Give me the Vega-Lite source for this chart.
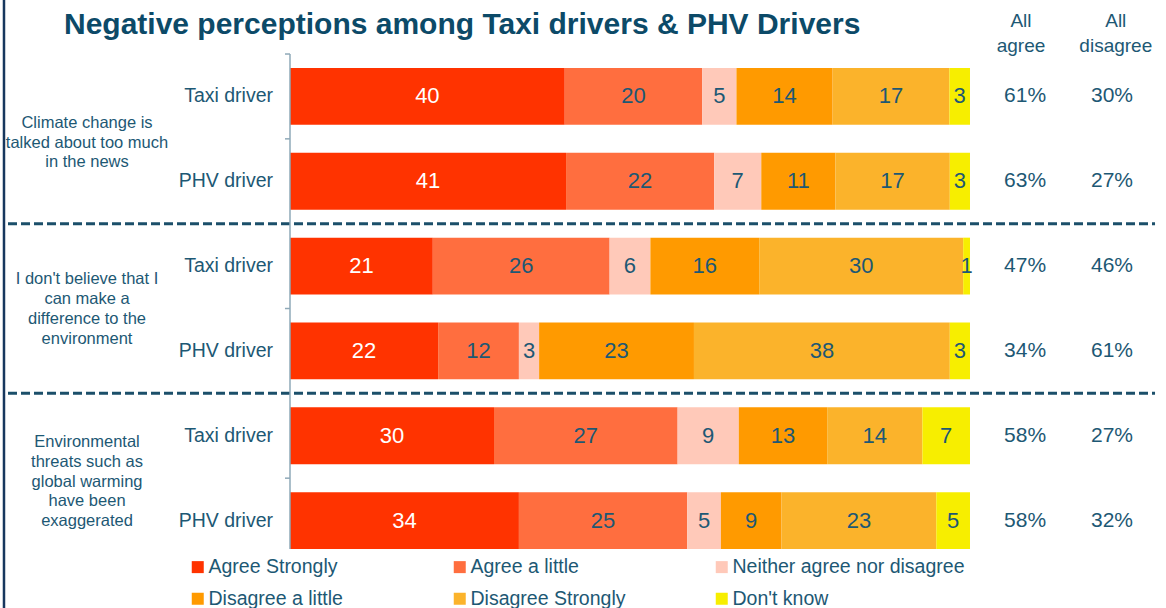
{
  "$schema": "https://vega.github.io/schema/vega-lite/v6.json",
  "width": 1166,
  "height": 608,
  "padding": 0,
  "autosize": "none",
  "config": {"view": {"stroke": null}, "font": "Liberation Sans"},
  "datasets": {
    "bars": [
      {"row": "Q1-Taxi", "cat": "Agree Strongly", "ci": 1, "value": 40},
      {"row": "Q1-Taxi", "cat": "Agree a little", "ci": 2, "value": 20},
      {"row": "Q1-Taxi", "cat": "Neither agree nor disagree", "ci": 3, "value": 5},
      {"row": "Q1-Taxi", "cat": "Disagree a little", "ci": 4, "value": 14},
      {"row": "Q1-Taxi", "cat": "Disagree Strongly", "ci": 5, "value": 17},
      {"row": "Q1-Taxi", "cat": "Don't know", "ci": 6, "value": 3},
      {"row": "Q1-PHV", "cat": "Agree Strongly", "ci": 1, "value": 41},
      {"row": "Q1-PHV", "cat": "Agree a little", "ci": 2, "value": 22},
      {"row": "Q1-PHV", "cat": "Neither agree nor disagree", "ci": 3, "value": 7},
      {"row": "Q1-PHV", "cat": "Disagree a little", "ci": 4, "value": 11},
      {"row": "Q1-PHV", "cat": "Disagree Strongly", "ci": 5, "value": 17},
      {"row": "Q1-PHV", "cat": "Don't know", "ci": 6, "value": 3},
      {"row": "Q2-Taxi", "cat": "Agree Strongly", "ci": 1, "value": 21},
      {"row": "Q2-Taxi", "cat": "Agree a little", "ci": 2, "value": 26},
      {"row": "Q2-Taxi", "cat": "Neither agree nor disagree", "ci": 3, "value": 6},
      {"row": "Q2-Taxi", "cat": "Disagree a little", "ci": 4, "value": 16},
      {"row": "Q2-Taxi", "cat": "Disagree Strongly", "ci": 5, "value": 30},
      {"row": "Q2-Taxi", "cat": "Don't know", "ci": 6, "value": 1},
      {"row": "Q2-PHV", "cat": "Agree Strongly", "ci": 1, "value": 22},
      {"row": "Q2-PHV", "cat": "Agree a little", "ci": 2, "value": 12},
      {"row": "Q2-PHV", "cat": "Neither agree nor disagree", "ci": 3, "value": 3},
      {"row": "Q2-PHV", "cat": "Disagree a little", "ci": 4, "value": 23},
      {"row": "Q2-PHV", "cat": "Disagree Strongly", "ci": 5, "value": 38},
      {"row": "Q2-PHV", "cat": "Don't know", "ci": 6, "value": 3},
      {"row": "Q3-Taxi", "cat": "Agree Strongly", "ci": 1, "value": 30},
      {"row": "Q3-Taxi", "cat": "Agree a little", "ci": 2, "value": 27},
      {"row": "Q3-Taxi", "cat": "Neither agree nor disagree", "ci": 3, "value": 9},
      {"row": "Q3-Taxi", "cat": "Disagree a little", "ci": 4, "value": 13},
      {"row": "Q3-Taxi", "cat": "Disagree Strongly", "ci": 5, "value": 14},
      {"row": "Q3-Taxi", "cat": "Don't know", "ci": 6, "value": 7},
      {"row": "Q3-PHV", "cat": "Agree Strongly", "ci": 1, "value": 34},
      {"row": "Q3-PHV", "cat": "Agree a little", "ci": 2, "value": 25},
      {"row": "Q3-PHV", "cat": "Neither agree nor disagree", "ci": 3, "value": 5},
      {"row": "Q3-PHV", "cat": "Disagree a little", "ci": 4, "value": 9},
      {"row": "Q3-PHV", "cat": "Disagree Strongly", "ci": 5, "value": 23},
      {"row": "Q3-PHV", "cat": "Don't know", "ci": 6, "value": 5}
    ],
    "rows": [
      {"row": "Q1-Taxi", "driver": "Taxi driver", "agree": "61%", "disagree": "30%"},
      {"row": "Q1-PHV", "driver": "PHV driver", "agree": "63%", "disagree": "27%"},
      {"row": "Q2-Taxi", "driver": "Taxi driver", "agree": "47%", "disagree": "46%"},
      {"row": "Q2-PHV", "driver": "PHV driver", "agree": "34%", "disagree": "61%"},
      {"row": "Q3-Taxi", "driver": "Taxi driver", "agree": "58%", "disagree": "27%"},
      {"row": "Q3-PHV", "driver": "PHV driver", "agree": "58%", "disagree": "32%"}
    ],
    "statements": [
      {"row": "Q1-Taxi", "statement": "Climate change is\ntalked about too much\nin the news"},
      {"row": "Q2-Taxi", "statement": "I don't believe that I\ncan make a\ndifference to the\nenvironment"},
      {"row": "Q3-Taxi", "statement": "Environmental\nthreats such as\nglobal warming\nhave been\nexaggerated"}
    ],
    "seps": [{"row": "Q1-PHV"}, {"row": "Q2-PHV"}],
    "one": [{}]
  },
  "layer": [
    {
      "data": {"name": "bars"},
      "mark": {"type": "bar"},
      "encoding": {
        "y": {"field": "row", "type": "nominal", "scale": {"type": "band", "domain": ["Q1-Taxi", "Q1-PHV", "Q2-Taxi", "Q2-PHV", "Q3-Taxi", "Q3-PHV"], "paddingInner": 0.33, "paddingOuter": 0.7486, "align": 0.5354}, "axis": null},
        "x": {"field": "value", "type": "quantitative", "stack": "normalize", "scale": {"domain": [-0.42647, 1.28824], "nice": false, "zero": false}, "axis": null},
        "order": {"field": "ci", "type": "quantitative"},
        "color": {"field": "cat", "type": "nominal",
          "scale": {"domain": ["Agree Strongly", "Agree a little", "Neither agree nor disagree", "Disagree a little", "Disagree Strongly", "Don't know"],
            "range": ["#ff3300", "#ff6e3f", "#ffc9b9", "#ff9a00", "#fbb32b", "#f7ee00"]},
          "legend": {"orient": "none", "legendX": 188, "legendY": 557, "columns": 3, "direction": "horizontal", "gridAlign": "all", "columnPadding": 9, "rowPadding": 11, "padding": 0, "title": null,
            "symbolType": "square", "symbolSize": 144, "symbolStrokeWidth": 0, "labelFontSize": 19.5, "labelColor": "#1d5874", "labelOffset": 1, "labelLimit": 300}}
      }
    },
    {
      "data": {"name": "bars"},
      "mark": {"type": "text", "fontSize": 22, "baseline": "middle", "align": "center"},
      "encoding": {
        "y": {"field": "row", "type": "nominal", "scale": {"type": "band", "domain": ["Q1-Taxi", "Q1-PHV", "Q2-Taxi", "Q2-PHV", "Q3-Taxi", "Q3-PHV"], "paddingInner": 0.33, "paddingOuter": 0.7486, "align": 0.5354}, "axis": null},
        "x": {"field": "value", "type": "quantitative", "stack": "normalize", "bandPosition": 0.5, "scale": {"domain": [-0.42647, 1.28824], "nice": false, "zero": false}, "axis": null},
        "order": {"field": "ci", "type": "quantitative"},
        "detail": {"field": "cat", "type": "nominal"},
        "text": {"field": "value", "type": "quantitative"},
        "color": {"condition": {"test": "datum.cat === 'Agree Strongly'", "value": "#ffffff"}, "value": "#1d5874"}
      }
    },
    {
      "data": {"name": "rows"},
      "layer": [
        {
          "mark": {"type": "text", "fontSize": 19.5, "align": "right", "baseline": "middle", "color": "#1d5874"},
          "encoding": {
            "y": {"field": "row", "type": "nominal", "scale": {"type": "band", "domain": ["Q1-Taxi", "Q1-PHV", "Q2-Taxi", "Q2-PHV", "Q3-Taxi", "Q3-PHV"], "paddingInner": 0.33, "paddingOuter": 0.7486, "align": 0.5354}, "axis": null},
            "x": {"datum": -0.025, "type": "quantitative", "scale": {"domain": [-0.42647, 1.28824], "nice": false, "zero": false}, "axis": null},
            "text": {"field": "driver"}
          }
        },
        {
          "mark": {"type": "rule", "strokeWidth": 1.5, "color": "#8fa9b8"},
          "encoding": {
            "y": {"field": "row", "type": "nominal", "bandPosition": -0.246, "scale": {"type": "band", "domain": ["Q1-Taxi", "Q1-PHV", "Q2-Taxi", "Q2-PHV", "Q3-Taxi", "Q3-PHV"], "paddingInner": 0.33, "paddingOuter": 0.7486, "align": 0.5354}, "axis": null},
            "x": {"datum": -0.0074, "type": "quantitative", "scale": {"domain": [-0.42647, 1.28824], "nice": false, "zero": false}, "axis": null},
            "x2": {"datum": 0}
          }
        },
        {
          "mark": {"type": "text", "fontSize": 21, "align": "center", "baseline": "middle", "color": "#1d5874"},
          "encoding": {
            "y": {"field": "row", "type": "nominal", "scale": {"type": "band", "domain": ["Q1-Taxi", "Q1-PHV", "Q2-Taxi", "Q2-PHV", "Q3-Taxi", "Q3-PHV"], "paddingInner": 0.33, "paddingOuter": 0.7486, "align": 0.5354}, "axis": null},
            "x": {"datum": 1.081, "type": "quantitative", "scale": {"domain": [-0.42647, 1.28824], "nice": false, "zero": false}, "axis": null},
            "text": {"field": "agree"}
          }
        },
        {
          "mark": {"type": "text", "fontSize": 21, "align": "center", "baseline": "middle", "color": "#1d5874"},
          "encoding": {
            "y": {"field": "row", "type": "nominal", "scale": {"type": "band", "domain": ["Q1-Taxi", "Q1-PHV", "Q2-Taxi", "Q2-PHV", "Q3-Taxi", "Q3-PHV"], "paddingInner": 0.33, "paddingOuter": 0.7486, "align": 0.5354}, "axis": null},
            "x": {"datum": 1.2088, "type": "quantitative", "scale": {"domain": [-0.42647, 1.28824], "nice": false, "zero": false}, "axis": null},
            "text": {"field": "disagree"}
          }
        }
      ]
    },
    {
      "data": {"name": "statements"},
      "transform": [{"filter": "datum.row === 'Q1-Taxi'"}],
      "mark": {"type": "text", "fontSize": 16.5, "lineHeight": 19.75, "lineBreak": "\n", "align": "center", "baseline": "middle", "color": "#1d5874", "dy": -16},
      "encoding": {
        "y": {"field": "row", "type": "nominal", "bandPosition": 1.246, "scale": {"type": "band", "domain": ["Q1-Taxi", "Q1-PHV", "Q2-Taxi", "Q2-PHV", "Q3-Taxi", "Q3-PHV"], "paddingInner": 0.33, "paddingOuter": 0.7486, "align": 0.5354}, "axis": null},
        "x": {"datum": -0.2985, "type": "quantitative", "scale": {"domain": [-0.42647, 1.28824], "nice": false, "zero": false}, "axis": null},
        "text": {"field": "statement"}
      }
    },
    {
      "data": {"name": "statements"},
      "transform": [{"filter": "datum.row === 'Q2-Taxi'"}],
      "mark": {"type": "text", "fontSize": 16.5, "lineHeight": 19.75, "lineBreak": "\n", "align": "center", "baseline": "middle", "color": "#1d5874", "dy": -29},
      "encoding": {
        "y": {"field": "row", "type": "nominal", "bandPosition": 1.246, "scale": {"type": "band", "domain": ["Q1-Taxi", "Q1-PHV", "Q2-Taxi", "Q2-PHV", "Q3-Taxi", "Q3-PHV"], "paddingInner": 0.33, "paddingOuter": 0.7486, "align": 0.5354}, "axis": null},
        "x": {"datum": -0.2985, "type": "quantitative", "scale": {"domain": [-0.42647, 1.28824], "nice": false, "zero": false}, "axis": null},
        "text": {"field": "statement"}
      }
    },
    {
      "data": {"name": "statements"},
      "transform": [{"filter": "datum.row === 'Q3-Taxi'"}],
      "mark": {"type": "text", "fontSize": 16.5, "lineHeight": 19.75, "lineBreak": "\n", "align": "center", "baseline": "middle", "color": "#1d5874", "dy": -36},
      "encoding": {
        "y": {"field": "row", "type": "nominal", "bandPosition": 1.246, "scale": {"type": "band", "domain": ["Q1-Taxi", "Q1-PHV", "Q2-Taxi", "Q2-PHV", "Q3-Taxi", "Q3-PHV"], "paddingInner": 0.33, "paddingOuter": 0.7486, "align": 0.5354}, "axis": null},
        "x": {"datum": -0.2985, "type": "quantitative", "scale": {"domain": [-0.42647, 1.28824], "nice": false, "zero": false}, "axis": null},
        "text": {"field": "statement"}
      }
    },
    {
      "data": {"name": "seps"},
      "mark": {"type": "rule", "strokeDash": [9, 4], "strokeWidth": 3, "color": "#1b4f6a"},
      "encoding": {
        "y": {"field": "row", "type": "nominal", "bandPosition": 1.246, "scale": {"type": "band", "domain": ["Q1-Taxi", "Q1-PHV", "Q2-Taxi", "Q2-PHV", "Q3-Taxi", "Q3-PHV"], "paddingInner": 0.33, "paddingOuter": 0.7486, "align": 0.5354}, "axis": null},
        "x": {"datum": -0.4147, "type": "quantitative", "scale": {"domain": [-0.42647, 1.28824], "nice": false, "zero": false}, "axis": null},
        "x2": {"datum": 1.2721}
      }
    },
    {
      "data": {"name": "one"},
      "mark": {"type": "rule", "strokeWidth": 1.5, "color": "#8fa9b8"},
      "encoding": {
        "x": {"datum": 0, "type": "quantitative", "scale": {"domain": [-0.42647, 1.28824], "nice": false, "zero": false}, "axis": null},
        "y": {"datum": "Q1-Taxi", "type": "nominal", "bandPosition": -0.246, "scale": {"type": "band", "domain": ["Q1-Taxi", "Q1-PHV", "Q2-Taxi", "Q2-PHV", "Q3-Taxi", "Q3-PHV"], "paddingInner": 0.33, "paddingOuter": 0.7486, "align": 0.5354}, "axis": null},
        "y2": {"datum": "Q3-PHV", "bandPosition": 1}
      }
    },
    {
      "data": {"name": "one"},
      "mark": {"type": "rule", "strokeWidth": 2.5, "color": "#17375e"},
      "encoding": {
        "x": {"datum": -0.4206, "type": "quantitative", "scale": {"domain": [-0.42647, 1.28824], "nice": false, "zero": false}, "axis": null}
      }
    },
    {
      "data": {"name": "one"},
      "mark": {"type": "text", "fontSize": 19, "lineHeight": 25, "lineBreak": "\n", "align": "center", "baseline": "alphabetic", "color": "#1d5874", "dy": -41},
      "encoding": {
        "x": {"datum": 1.075, "type": "quantitative", "scale": {"domain": [-0.42647, 1.28824], "nice": false, "zero": false}, "axis": null},
        "y": {"datum": "Q1-Taxi", "type": "nominal", "bandPosition": 0, "scale": {"type": "band", "domain": ["Q1-Taxi", "Q1-PHV", "Q2-Taxi", "Q2-PHV", "Q3-Taxi", "Q3-PHV"], "paddingInner": 0.33, "paddingOuter": 0.7486, "align": 0.5354}, "axis": null},
        "text": {"value": "All\nagree"}
      }
    },
    {
      "data": {"name": "one"},
      "mark": {"type": "text", "fontSize": 19, "lineHeight": 25, "lineBreak": "\n", "align": "center", "baseline": "alphabetic", "color": "#1d5874", "dy": -41},
      "encoding": {
        "x": {"datum": 1.2144, "type": "quantitative", "scale": {"domain": [-0.42647, 1.28824], "nice": false, "zero": false}, "axis": null},
        "y": {"datum": "Q1-Taxi", "type": "nominal", "bandPosition": 0, "scale": {"type": "band", "domain": ["Q1-Taxi", "Q1-PHV", "Q2-Taxi", "Q2-PHV", "Q3-Taxi", "Q3-PHV"], "paddingInner": 0.33, "paddingOuter": 0.7486, "align": 0.5354}, "axis": null},
        "text": {"value": "All\ndisagree"}
      }
    },
    {
      "data": {"name": "one"},
      "mark": {"type": "text", "fontSize": 30, "fontWeight": "bold", "align": "left", "baseline": "alphabetic", "color": "#0c4a68", "dy": -34},
      "encoding": {
        "x": {"datum": -0.3324, "type": "quantitative", "scale": {"domain": [-0.42647, 1.28824], "nice": false, "zero": false}, "axis": null},
        "y": {"datum": "Q1-Taxi", "type": "nominal", "bandPosition": 0, "scale": {"type": "band", "domain": ["Q1-Taxi", "Q1-PHV", "Q2-Taxi", "Q2-PHV", "Q3-Taxi", "Q3-PHV"], "paddingInner": 0.33, "paddingOuter": 0.7486, "align": 0.5354}, "axis": null},
        "text": {"value": "Negative perceptions among Taxi drivers & PHV Drivers"}
      }
    }
  ]
}
